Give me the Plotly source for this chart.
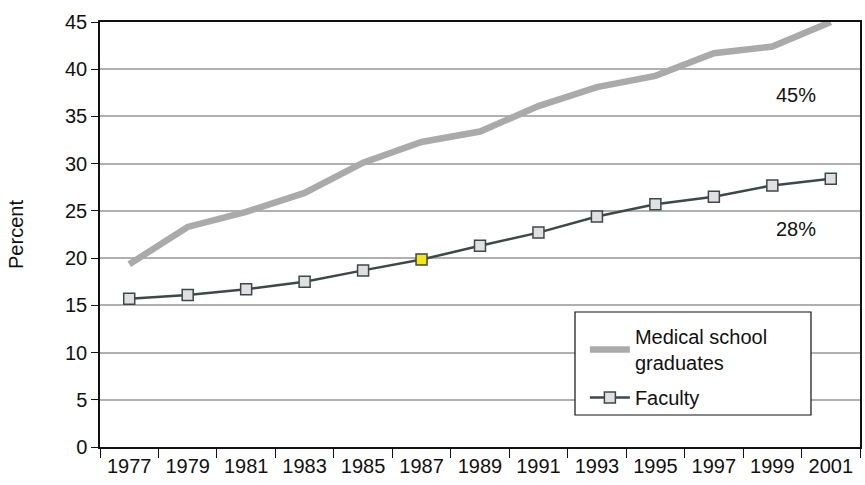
import plotly.graph_objects as go

years = ["1977", "1979", "1981", "1983", "1985", "1987", "1989", "1991", "1993", "1995", "1997", "1999", "2001"]
medical = [19.35, 23.3, 24.9, 26.9, 30.1, 32.3, 33.4, 36.1, 38.1, 39.3, 41.7, 42.4, 45.0]
faculty = [15.7, 16.1, 16.7, 17.5, 18.7, 19.85, 21.3, 22.7, 24.4, 25.7, 26.5, 27.7, 28.4]
marker_fill = ["#e0e0e0"] * 5 + ["#f5e51b"] + ["#e0e0e0"] * 7
y_ticks = [0, 5, 10, 15, 20, 25, 30, 35, 40, 45]
labels = ["45%", "28%"]
label_y = [37.25, 23.05]

FONT = "Liberation Sans, Arial, Helvetica, sans-serif"

fig = go.Figure()
fig.add_trace(go.Scatter(
    x=years, y=medical, mode="lines", name="Medical school<br>graduates",
    legendgroup="a",
    line=dict(color="#aaaaaa", width=6.5),
))
fig.add_trace(go.Scatter(
    x=years, y=faculty, mode="lines+markers", name="Faculty",
    legendgroup="b",
    line=dict(color="#3d4848", width=2.5),
    marker=dict(symbol="square", size=11, color=marker_fill,
                line=dict(color="#3d4848", width=1.5)),
))

for t, yv in zip(labels, label_y):
    fig.add_annotation(x=11.4, y=yv, text=t, showarrow=False, xref="x", yref="y",
                       font=dict(size=20, color="#111111", family=FONT))

# legend frame
fig.add_shape(type="rect", xref="paper", yref="paper",
              x0=0.625, x1=0.9355, y0=0.0753, y1=0.3176,
              line=dict(color="#111111", width=1.2), fillcolor="white", layer="above")

fig.update_layout(
    width=865, height=485,
    margin=dict(l=100, r=5, t=22, b=38),
    plot_bgcolor="white", paper_bgcolor="white",
    font=dict(family=FONT, size=20, color="#111111"),
    showlegend=True,
    legend=dict(x=0.638, y=0.306, xanchor="left", yanchor="top",
                bgcolor="rgba(0,0,0,0)", borderwidth=0,
                font=dict(size=20, family=FONT, color="#111111"),
                itemwidth=40, tracegroupgap=6),
    xaxis=dict(
        type="category", categoryorder="array", categoryarray=years,
        tickson="boundaries", ticks="outside", ticklen=9, tickcolor="#111111",
        showline=True, linecolor="#111111", linewidth=1.5, mirror=True,
        showgrid=False, tickfont=dict(size=20), range=[-0.5, 12.5],
        automargin=False,
    ),
    yaxis=dict(
        range=[0, 45], tickvals=y_ticks, ticks="outside", ticklen=7, tickcolor="#111111",
        showline=True, linecolor="#111111", linewidth=1.5, mirror=True,
        showgrid=True, gridcolor="#b0b0b0", gridwidth=1.5, zeroline=False,
        tickfont=dict(size=20), automargin=False,
        title=dict(text="Percent", font=dict(size=20), standoff=36),
    ),
)

fig.write_html("out.html", config={"displayModeBar": False},
               post_script="document.body.style.margin='0';")
